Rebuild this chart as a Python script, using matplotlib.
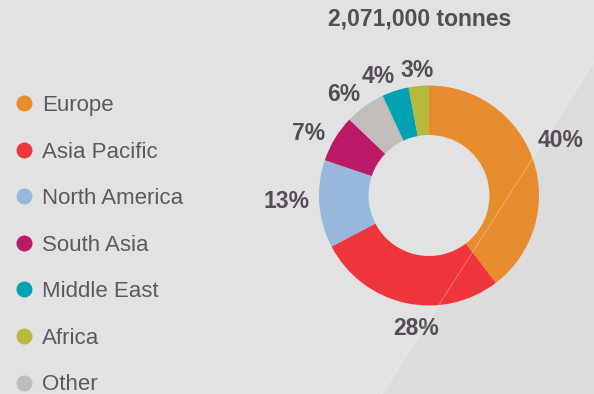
import numpy as np
import matplotlib.pyplot as plt
from matplotlib.lines import Line2D
from matplotlib.patches import Polygon

# 지역별 물량 비율 (%)
regions = ['Europe', 'Asia Pacific', 'North America', 'South Asia',
           'Other', 'Middle East', 'Africa']
shares = [40, 28, 13, 7, 6, 4, 3]
colors = ['#e88c30', '#ee363c', '#97b8da', '#bb1a66',
          '#c3bdba', '#00a1b0', '#b5b93c']

# 범례 순서
legend_order = ['Europe', 'Asia Pacific', 'North America', 'South Asia',
                'Middle East', 'Africa', 'Other']

title = '2,071,000 tonnes'

# 라벨 위치 미세 조정 (각도 오프셋, 반지름 배율)
lbl_dang = [5, 7, -3, 3, 4, 5, 0]
lbl_rad = [1.31, 1.19, 1.30, 1.24, 1.22, 1.195, 1.16]

W, H = 594, 394
bg = '#e2e2e2'
txt_dark = '#554c56'
txt_legend = '#5d5860'

fig = plt.figure(figsize=(W / 100, H / 100), dpi=100, facecolor=bg)
ax = fig.add_axes([0, 0, 1, 1])

# 배경의 사선 영역
diag = [(W, H - 62), (382, 0)]
ax.add_patch(Polygon([diag[0], (W, 0), diag[1]], closed=True,
                     facecolor='#dcdcdc', edgecolor='none', zorder=0))

# 도넛 차트
cx, cy, r = 429, H - 195.5, 110
wedges, _ = ax.pie(shares, colors=colors, startangle=90, counterclock=False,
                   center=(cx, cy), radius=r, frame=True,
                   wedgeprops=dict(width=r * 0.45, edgecolor='none'))
ax.plot([diag[0][0], diag[1][0]], [diag[0][1], diag[1][1]],
        color='white', alpha=0.35, lw=0.6, zorder=5)
ax.set_xlim(0, W)
ax.set_ylim(0, H)
ax.set_aspect('equal')
ax.axis('off')

# 비율 라벨
for w, s, da, rf in zip(wedges, shares, lbl_dang, lbl_rad):
    ang = np.deg2rad((w.theta1 + w.theta2) / 2 + da)
    lx = cx + r * rf * np.cos(ang)
    ly = cy + r * rf * np.sin(ang) - 2.5
    ax.text(lx, ly, f'{s}%', ha='center', va='center', fontsize=16.5,
            fontweight='bold', color=txt_dark, family='Liberation Sans')

ax.text(cx - 9, H - 19, title, ha='center', va='center', fontsize=16.5,
        fontweight='bold', color=txt_dark, family='Liberation Sans')

# 범례
cmap = dict(zip(regions, colors))
handles = [Line2D([], [], marker='o', ls='', markersize=11.5,
                  markerfacecolor=cmap[n], markeredgecolor='none')
           for n in legend_order]
leg = fig.legend(handles, legend_order, loc='upper left',
                 bbox_to_anchor=(15 / W, 1 - 95 / H), frameon=False,
                 prop={'family': 'Liberation Sans', 'size': 16},
                 labelcolor=txt_legend, handlelength=0.78, handletextpad=0.44,
                 labelspacing=1.15, borderpad=0, borderaxespad=0)

plt.savefig('out.png', dpi=100, facecolor=bg)
